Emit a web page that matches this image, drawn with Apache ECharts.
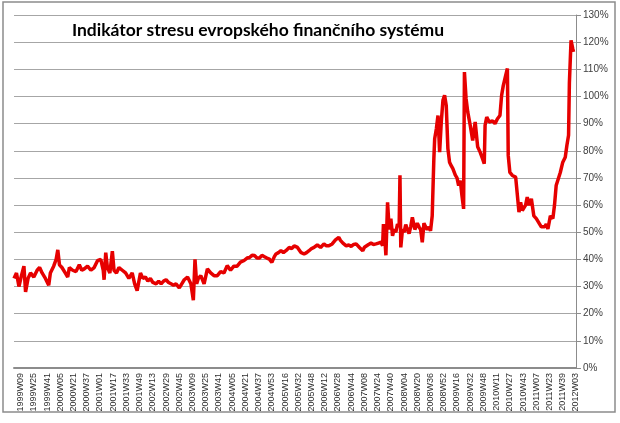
<!DOCTYPE html>
<html><head><meta charset="utf-8">
<script src="https://cdn.jsdelivr.net/npm/echarts@6/dist/echarts.min.js"></script>
<style>html,body{margin:0;padding:0;background:#fff}#c{width:620px;height:423px}</style>
</head><body><div id="c"></div>
<script>
// Weeks per year used for category labels (last entry = final week shown)
var yearWeeks = [[1999,52],[2000,52],[2001,52],[2002,52],[2003,52],[2004,53],[2005,52],[2006,52],[2007,52],[2008,52],[2009,53],[2010,52],[2011,52],[2012,3]];
var yTicks = [0,10,20,30,40,50,60,70,80,90,100,110,120,130];
var titleText = 'Indikátor stresu evropského finančního systému';

// Readings: week index (0 = 1999W01) and stress indicator in %
var wk1999_2001 = [0,3,6,9,12,14,17,20,24,28,31,34,38,42,44,48,51,53,55,58,62,65,67,71,75,79,82,85,89,93,97,101,105,108,109,111,113,116,119,121,124,127,131,135,139,143,146,149];
var val1999_2001 = [33,35,30,34,37.5,28,33,35,33.5,36,37,35,33,30.5,35,37.5,40,43.5,38,37,35,33.5,37,36,35.5,38,36,36.5,37.5,36,37,39.5,40,36,32.5,42.5,37,35,43,36,35,37,36,35,33,35,31,28.5];

var wk2002_2004 = [153,156,159,162,165,168,172,175,178,181,184,187,190,193,196,200,203,206,210,214,217,219,221,223,226,230,234,238,242,246,250,254,258,262,266,270,274,278,282,285,288,291,294,297,300,303];
var val2002_2004 = [35,33,33.5,32,33,31.5,31,32,31,32,32.5,31.5,31,30.5,31,29.5,31,32.5,33.5,31,25,40,31,33,34,31,36.5,35,34,34,35.5,35,37.7,36,37.5,37.5,39,39.5,40.5,40.7,41.5,41.4,40.5,40.5,41.5,41];

var wk2004_2007 = [306,309,312,315,317,320,323,326,329,333,336,339,343,347,351,354,357,360,363,367,371,375,378,381,385,389,393,395,398,402,405,408,411,414,418,422,424,426,429,432,435,438,441,444,446,447];
var val2004_2007 = [40.5,40.1,38.9,41,42,42.5,43.2,42.5,43.2,44.4,44,45,44.4,42.6,42,42.5,43.2,44,44.4,45.3,44.4,45.7,45,45,45.7,47.2,48.1,47,46,45,45.3,44.8,45.5,45.7,44.4,43.2,44.5,45,45.5,46,45.5,45.7,46,46.3,45,53];

var wk2007_2009 = [448,450,452,454,456,458,460,462,464,466,467,468,470,472,474,476,478,480,482,485,488,490,492,494,496,498,500,502,504,506,508,509,511,513,515,517,519,521,523,525,527,529,531,534,536,538,540,542,544,545,547,549,552,555,558,561];
var val2007_2009 = [51,41.5,61,51,55,48.7,51,50,53,52,71,44.4,51,50,52.8,51,49.5,52,55.5,51,53.3,52,51,46.3,53.3,52,51,52,50.5,56,77,84.4,88,93,79.5,90.6,98.6,100.4,96.7,80.8,75.8,74.5,73.4,71,70,67.2,69,63.5,58.6,109,99.2,94.3,89.4,83.8,90.6,81.5];

var wk2009_2012 = [564,567,569,570,572,575,579,582,585,588,590,592,595,597,598,600,603,607,609,611,613,615,617,619,621,623,626,629,632,634,636,638,640,642,644,646,649,652,654,656,658,661,664,667,669,671,672,674,676,677];
var val2009_2012 = [79.5,77,75.2,89.4,92.4,90.6,91,90,91.8,93,100.4,104,107.8,110.3,78.3,72,70.9,70.3,69.8,57.4,61,58,59,60,62.9,60,62.3,56,55,54,53,52,51.8,52,53,51.2,56,55,60,67.2,67.8,72,75.8,77.6,82,85.7,105,120.7,117.7,116.4];

var categories = [];
yearWeeks.forEach(function (yw) {
  for (var w = 1; w <= yw[1]; w++) categories.push(yw[0] + 'W' + (w < 10 ? '0' + w : w));
});
var weeks = [].concat(wk1999_2001, wk2002_2004, wk2004_2007, wk2007_2009, wk2009_2012);
var vals = [].concat(val1999_2001, val2002_2004, val2004_2007, val2007_2009, val2009_2012);
var seriesData = weeks.map(function (w, i) { return [w, vals[i]]; });

var chart = echarts.init(document.getElementById('c'), null, {renderer: 'canvas'});
chart.setOption({
  animation: false,
  backgroundColor: '#fff',
  grid: {left: 14, right: 44, top: 15, bottom: 55},
  graphic: [
    {type: 'rect', shape: {x: 3, y: 2, width: 612, height: 410}, style: {fill: 'none', stroke: '#8c8c8c', lineWidth: 1.5}, z: -1},
    {type: 'text', x: 258, y: 30, style: {text: titleText, font: 'bold 17.5px Lato, sans-serif', fill: '#000', textAlign: 'center', textVerticalAlign: 'middle'}, z: 10}
  ],
  xAxis: {
    type: 'category',
    data: categories,
    boundaryGap: false,
    axisLine: {lineStyle: {color: '#8c8c8c', width: 2}},
    axisTick: {show: false},
    axisLabel: {
      rotate: 90, fontSize: 9, color: '#2e2e2e', margin: 5,
      fontFamily: 'Liberation Sans',
      interval: function (index) { return index % 16 === 8; }
    },
    splitLine: {show: false}
  },
  yAxis: {
    type: 'value', position: 'right', min: yTicks[0], max: yTicks[yTicks.length - 1], interval: 10,
    axisLine: {show: true, lineStyle: {color: '#8c8c8c', width: 1}},
    axisTick: {show: true, length: 5, lineStyle: {color: '#8c8c8c'}},
    axisLabel: {formatter: '{value}%', fontSize: 10, color: '#404040', margin: 7, fontFamily: 'Liberation Sans'},
    splitLine: {lineStyle: {color: '#a6a6a6', width: 1.2}}
  },
  series: [{
    type: 'line', data: seriesData, showSymbol: false, symbol: 'none',
    lineStyle: {color: '#e60000', width: 3.5}, itemStyle: {color: '#e60000'}
  }]
});
</script>
</body></html>
